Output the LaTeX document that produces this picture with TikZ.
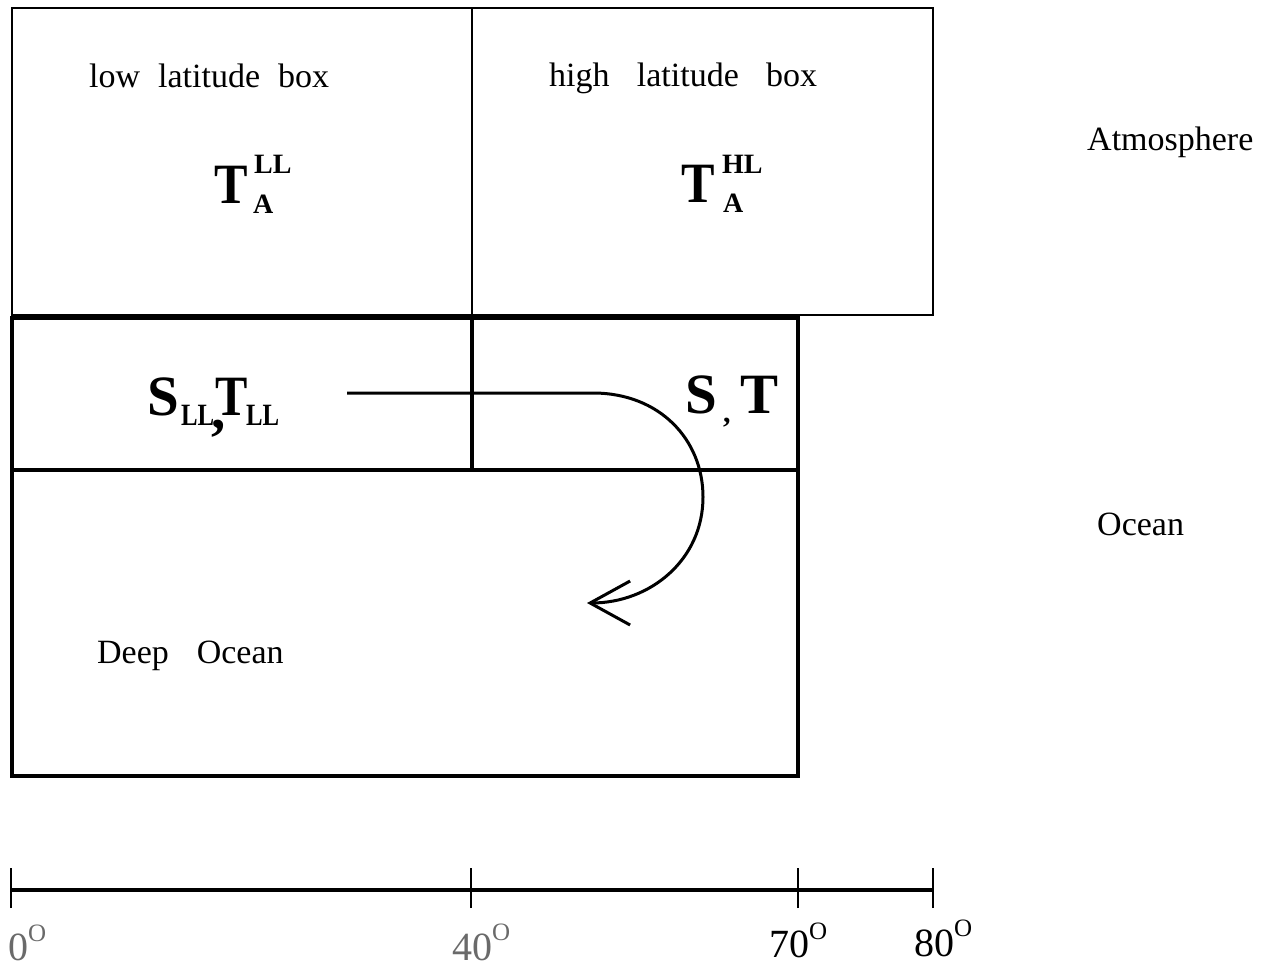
\documentclass[tikz,border=0pt]{standalone}
\usepackage{fontspec}
\setmainfont{Liberation Serif}
\usetikzlibrary{arrows.meta}
\definecolor{labgray}{HTML}{6A6A6A}
\begin{document}
\begin{tikzpicture}[x=1pt,y=-1pt,
  atmline/.style={line width=1.6pt},
  oceanline/.style={line width=4.5pt},
  axisline/.style={line width=3.5pt},
  tickline/.style={line width=1.4pt},
  lbl/.style={anchor=base west, inner sep=0pt, font=\fontsize{34}{40}\selectfont},
  bigb/.style={anchor=base west, inner sep=0pt, font=\fontsize{57}{60}\selectfont\bfseries},
  smallb/.style={anchor=base west, inner sep=0pt, font=\fontsize{28}{30}\selectfont\bfseries},
  subb/.style={anchor=base west, inner sep=0pt, font=\fontsize{31}{33}\selectfont\bfseries},
  deg/.style={anchor=base west, inner sep=0pt, font=\fontsize{40}{44}\selectfont},
  flow/.style={line width=3pt, -{Straight Barb[length=40pt,width=44pt]}}
]
\useasboundingbox (0,0) rectangle (1274,967);

% atmosphere boxes
\draw[atmline] (12,8) rectangle (933,315);
\draw[atmline] (472,8) -- (472,315);

% ocean boxes
\draw[oceanline] (12,318) rectangle (798,776);
\draw[oceanline] (12,470) -- (798,470);
\draw[oceanline] (472,318) -- (472,470);

% text labels
\node[lbl] (lowlab) at (89,87) {low\hspace{0.53em}latitude\hspace{0.53em}box};
\node[lbl] (highlab) at (549,86) {high\hspace{0.8em}latitude\hspace{0.8em}box};
\node[lbl] (atmlab) at (1087,150) {Atmosphere};
\node[lbl] (ocelab) at (1097,535) {Ocean};
\node[lbl] (deeplab) at (97,663) {Deep\hspace{0.82em}Ocean};

% T_A^LL
\node[bigb] (tall) at (214,203) {\scalebox{0.88}[1]{T}};
\node[smallb] (tallsup) at (254,173) {LL};
\node[smallb] (tallsub) at (253,213) {A};
% T_A^HL
\node[bigb] (tahl) at (681,202) {\scalebox{0.88}[1]{T}};
\node[smallb] (tahlsup) at (722,173) {HL};
\node[smallb] (tahlsub) at (723,212) {A};

% S_LL, T_LL
\node[bigb] (sll) at (147,415) {S};
\node[subb] (sllsub) at (181,425) {\scalebox{0.8}[1]{LL}};
\node[bigb] (sllcomma) at (211,428) {,};
\node[bigb] (tll) at (215,415) {\scalebox{0.85}[1]{T}};
\node[subb] (tllsub) at (246,425) {\scalebox{0.8}[1]{LL}};

% S , T
\node[bigb] (shl) at (685,413) {S};
\node[bigb, font=\fontsize{30}{32}\selectfont\bfseries] (hlcomma) at (723,422) {,};
\node[bigb] (thl) at (740,413) {T};

% overturning flow arrow
\coordinate (flowstart) at (347,393);
\coordinate (flowend) at (587,603);
\draw[flow] (flowstart) -- (593,393) .. controls (660,393) and (703,440) .. (703,497)
  .. controls (703,560) and (650,603) .. (flowend);

% latitude axis
\coordinate (ax0) at (11,890);
\coordinate (ax40) at (471,890);
\coordinate (ax70) at (798,890);
\coordinate (ax80) at (933,890);
\draw[axisline] (ax0) -- (ax80);
\foreach \p in {ax0,ax40,ax70,ax80}
  \draw[tickline] ([yshift=-18pt]\p) -- ([yshift=22pt]\p);

\node[deg, text=labgray] (d0) at (8,960) {0\raisebox{19pt}{\fontsize{25}{27}\selectfont O}};
\node[deg, text=labgray] (d40) at (452,960) {40\raisebox{20pt}{\fontsize{25}{27}\selectfont O}};
\node[deg] (d70) at (769,957) {70\raisebox{18pt}{\fontsize{25}{27}\selectfont O}};
\node[deg] (d80) at (914,956) {80\raisebox{20pt}{\fontsize{25}{27}\selectfont O}};
\end{tikzpicture}
\end{document}
